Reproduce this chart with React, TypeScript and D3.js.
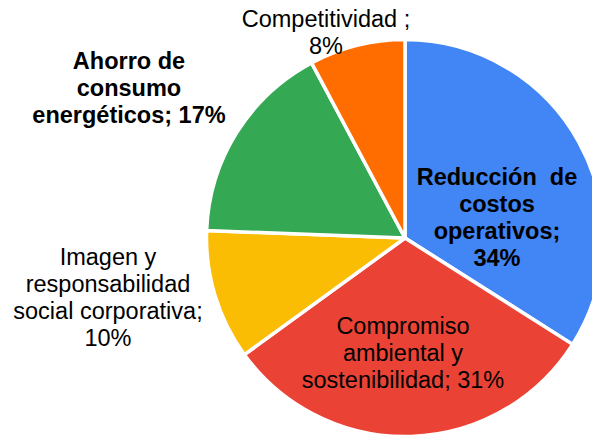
import { useEffect, useRef } from "react";
import * as d3 from "d3";

// slices clockwise from 12 o'clock
const categories = [
  "Reducción  de costos operativos",
  "Compromiso ambiental y sostenibilidad",
  "Imagen y responsabilidad social corporativa",
  "Ahorro de consumo energéticos",
  "Competitividad",
];
const values = [34, 31, 10.6, 16.6, 7.8];
const percentLabels = ["34%", "31%", "10%", "17%", "8%"];
const colors = ["#4285F4", "#EA4335", "#FBBC04", "#34A853", "#FF6D01"];

// label text broken into lines as in the original
const labelLines = [
  ["Reducción  de", "costos", "operativos;", "34%"],
  ["Compromiso", "ambiental y", "sostenibilidad; 31%"],
  ["Imagen y", "responsabilidad", "social corporativa;", "10%"],
  ["Ahorro de", "consumo", "energéticos; 17%"],
  ["Competitividad ;", "8%"],
];
const labelBold = [true, false, false, true, false];
// x center, first baseline
const labelAnchor: [number, number][] = [
  [497, 185],
  [403, 334],
  [108, 265],
  [129, 69],
  [326, 27],
];

function App() {
  const ref = useRef<SVGSVGElement>(null);

  useEffect(() => {
    const width = 592;
    const height = 438;
    const cx = 405;
    const cy = 238;
    const radius = 198.5;
    const lineH = 27;

    const svg = d3.select(ref.current);
    svg.selectAll("*").remove();

    const data = values.map((v, i) => ({
      label: categories[i],
      value: v,
      pct: percentLabels[i],
    }));

    const pie = d3
      .pie<any>()
      .sort(null)
      .value((d) => d.value);
    const arc = d3.arc<any>().innerRadius(0).outerRadius(radius);

    const g = svg.append("g").attr("transform", `translate(${cx},${cy})`);

    g.selectAll("path")
      .data(pie(data))
      .enter()
      .append("path")
      .attr("d", arc)
      .attr("fill", (_d, i) => colors[i])
      .attr("stroke", "#ffffff")
      .attr("stroke-width", 3.5)
      .attr("stroke-linejoin", "round");

    // labels
    labelLines.forEach((lines, i) => {
      const t = svg
        .append("text")
        .attr("text-anchor", "middle")
        .attr("font-family", "Liberation Sans, Arial, sans-serif")
        .attr("font-size", "23.5px")
        .attr("font-weight", labelBold[i] ? "bold" : "normal")
        .attr("fill", "#000000")
        .style("white-space", "pre");
      lines.forEach((line, j) => {
        t.append("tspan")
          .attr("x", labelAnchor[i][0])
          .attr("y", labelAnchor[i][1] + j * lineH)
          .text(line);
      });
    });

    svg.attr("width", width).attr("height", height);
  }, []);

  return (
    <svg
      ref={ref}
      width={592}
      height={438}
      style={{ position: "absolute", left: 0, top: 0, background: "#ffffff" }}
    />
  );
}

export default App;
